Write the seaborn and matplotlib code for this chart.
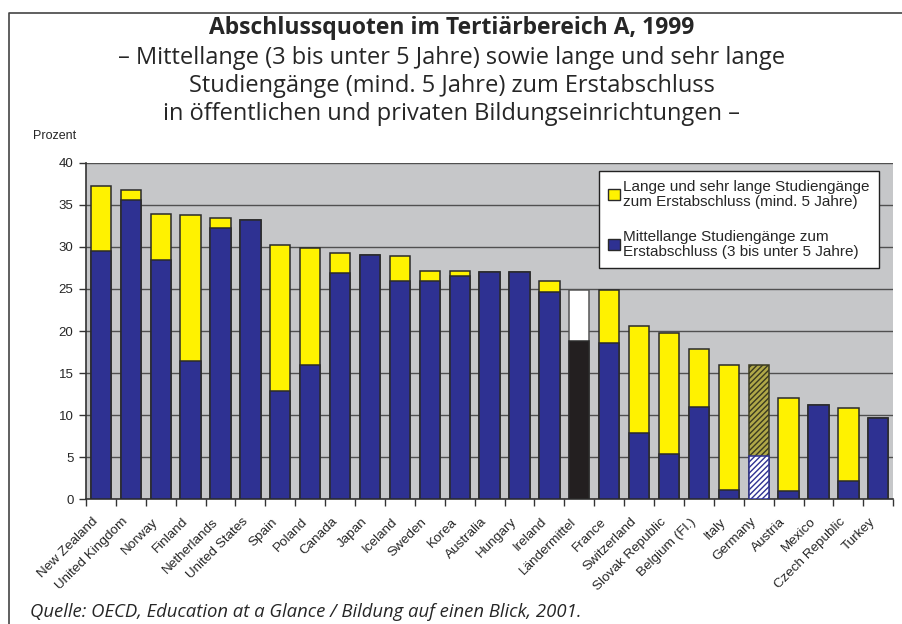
import numpy as np
import pandas as pd
import matplotlib
matplotlib.use('Agg')
import matplotlib.pyplot as plt
import matplotlib.patches as mpatches
from matplotlib.lines import Line2D
import seaborn as sns

countries = ['New Zealand', 'United Kingdom', 'Norway', 'Finland', 'Netherlands',
             'United States', 'Spain', 'Poland', 'Canada', 'Japan', 'Iceland',
             'Sweden', 'Korea', 'Australia', 'Hungary', 'Ireland', 'Ländermittel',
             'France', 'Switzerland', 'Slovak Republic', 'Belgium (Fl.)', 'Italy',
             'Germany', 'Austria', 'Mexico', 'Czech Republic', 'Turkey']
# Mittellange Studiengaenge (3 bis unter 5 Jahre)
mittel = [29.5, 35.6, 28.5, 16.4, 32.3, 33.2, 12.8, 15.9, 26.9, 29.0, 26.0,
          25.9, 26.5, 27.0, 27.0, 24.7, 18.8, 18.6, 7.8, 5.4, 11.0, 1.1,
          5.1, 0.9, 11.2, 2.2, 9.7]
# Lange und sehr lange Studiengaenge (mind. 5 Jahre)
lang = [7.8, 1.2, 5.4, 17.4, 1.1, 0.0, 17.4, 14.0, 2.4, 0.0, 2.9,
        1.3, 0.6, 0.0, 0.0, 1.2, 6.1, 6.3, 12.8, 14.4, 6.8, 14.9,
        10.9, 11.1, 0.0, 8.6, 0.0]

title = 'Abschlussquoten im Tertiärbereich A, 1999'
subtitle = ['– Mittellange (3 bis unter 5 Jahre) sowie lange und sehr lange',
            'Studiengänge (mind. 5 Jahre) zum Erstabschluss',
            'in öffentlichen und privaten Bildungseinrichtungen –']
source = 'Quelle: OECD, Education at a Glance / Bildung auf einen Blick, 2001.'
leg_lang = 'Lange und sehr lange Studiengänge\nzum Erstabschluss (mind. 5 Jahre)'
leg_mittel = 'Mittellange Studiengänge zum\nErstabschluss (3 bis unter 5 Jahre)'

df = pd.DataFrame({'country': countries, 'mittel': mittel, 'lang': lang})
df['total'] = df['mittel'] + df['lang']

BLUE = '#2e3192'
YELLOW = '#fff200'
GREY = '#c6c7c9'
EDGE = '#2a2a2a'

sns.set_style('white')
plt.rcParams['font.family'] = ['Liberation Sans', 'DejaVu Sans']
plt.rcParams['hatch.linewidth'] = 1.0

W, H = 903, 624
fig = plt.figure(figsize=(W / 100, H / 100), dpi=100)
ax = fig.add_axes([0.0952, 0.2003, 0.894, 0.5385])
ax.set_facecolor(GREY)

sns.barplot(data=df, x='country', y='total', color=YELLOW, saturation=1,
            width=0.68, edgecolor=EDGE, linewidth=1.1, ax=ax, zorder=2)
sns.barplot(data=df, x='country', y='mittel', color=BLUE, saturation=1,
            width=0.68, edgecolor=EDGE, linewidth=1.1, ax=ax, zorder=3)

top_bars = ax.containers[0]
low_bars = ax.containers[1]

# Laendermittel: weiss / schwarz
i = countries.index('Ländermittel')
top_bars[i].set_facecolor('white')
top_bars[i].set_edgecolor('#555555')
low_bars[i].set_facecolor('#231f20')

# Germany: schraffiert
i = countries.index('Germany')
top_bars[i].set_facecolor('#b0a848')
top_bars[i].set_edgecolor('#3a3a20')
top_bars[i].set_hatch('//////')
low_bars[i].set_facecolor('white')
low_bars[i].set_edgecolor(BLUE)
low_bars[i].set_hatch('//////')

ax.set_ylim(0, 40)
ax.set_xlim(-0.5, len(countries) - 0.5)
ax.set_yticks(np.arange(0, 41, 5))
ax.yaxis.grid(True, color='#505050', linewidth=1.0)
ax.set_axisbelow(True)
ax.set_xlabel('')
ax.set_ylabel('')

ax.set_xticks(np.arange(len(countries)) - 0.3)
ax.set_xticklabels(countries, rotation=45, ha='right', rotation_mode='anchor',
                   fontsize=9.7)
ax.set_xticks(np.arange(len(countries) + 1) - 0.5, minor=True)
ax.tick_params(axis='x', which='major', length=0, pad=12)
ax.tick_params(axis='x', which='minor', length=5, width=1, color='#333333',
               direction='out', bottom=True)
ax.tick_params(axis='y', length=5, width=1, color='#333333', direction='out',
               left=True, labelsize=9.5, pad=4)

for s in ['top', 'right']:
    ax.spines[s].set_visible(False)
for s in ['left', 'bottom']:
    ax.spines[s].set_color('#333333')
    ax.spines[s].set_linewidth(1.2)

handles = [mpatches.Patch(facecolor=YELLOW, edgecolor=EDGE, label=leg_lang),
           mpatches.Patch(facecolor=BLUE, edgecolor=EDGE, label=leg_mittel)]
leg = ax.legend(handles=handles, loc='upper right', bbox_to_anchor=(0.982, 0.977),
                fontsize=11, frameon=True, fancybox=False, handlelength=0.8,
                handleheight=0.8, handletextpad=0.2, labelspacing=1.35,
                borderpad=0.6, borderaxespad=0)
leg.get_frame().set_edgecolor('#222222')
leg.get_frame().set_linewidth(1.0)
leg.get_frame().set_facecolor('white')
leg.get_frame().set_alpha(1)
for t in leg.get_texts():
    t.set_linespacing(1.1)

fig.text(0.5, 1 - 34 / H, title, ha='center', va='baseline', fontsize=16.5,
         fontweight='bold', family=['Open Sans', 'DejaVu Sans'])
for line, ypx in zip(subtitle, [64, 92, 120]):
    fig.text(0.5, 1 - ypx / H, line, ha='center', va='baseline', fontsize=17,
             family=['Open Sans', 'DejaVu Sans'])
fig.text(33 / W, 1 - 136 / H, 'Prozent', ha='left', va='center', fontsize=9)
fig.text(30 / W, 1 - 612 / H, source, ha='left', va='center', fontsize=13.3,
         style='italic', family=['Open Sans', 'DejaVu Sans'])

# Rahmen oben und links
fig.lines.append(Line2D([9 / W, 9 / W, 1.0], [0.0, 1 - 13 / H, 1 - 13 / H],
                        transform=fig.transFigure, color='#444444',
                        linewidth=1.2))

fig.savefig('out.png', dpi=100)
